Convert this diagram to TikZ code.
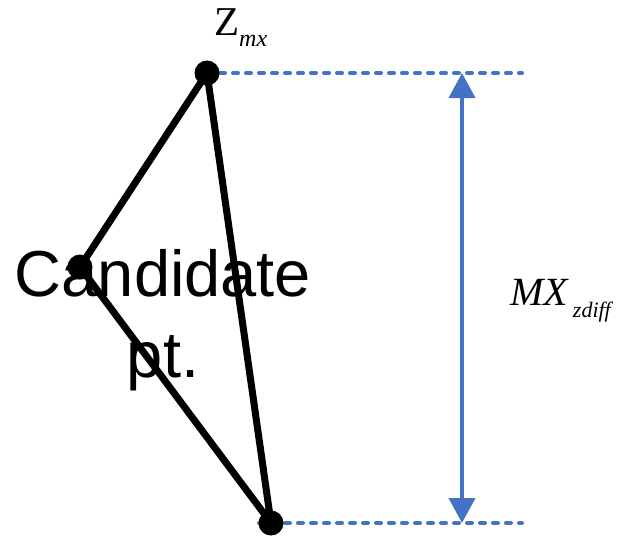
\documentclass[tikz,border=0pt]{standalone}
\usepackage{fontspec}
\setmainfont{Liberation Serif}
\setsansfont{Liberation Sans}
\usetikzlibrary{arrows.meta}
\definecolor{diffc}{HTML}{4472C4}

\begin{document}
\begin{tikzpicture}[x=1pt,y=-1pt,
    dot/.style={circle, fill=black, inner sep=0pt, minimum size=25pt},
    edge/.style={line width=7pt, line join=round},
    guide/.style={diffc, line width=4pt, line cap=round, dash pattern=on 5pt off 8pt},
    span/.style={diffc, line width=4pt, {Triangle[length=25pt,width=26pt]}-{Triangle[length=25pt,width=26pt]}}]
  \useasboundingbox (0,0) rectangle (621,539);
  \def\xend{522}\def\xarr{462}

  % points
  \coordinate (ztop) at (207,73);
  \coordinate (zbot) at (271,523);
  \coordinate (cpt) at (80,267);
  \coordinate (topend) at (\xend,73);
  \coordinate (botend) at (\xend,523);
  \coordinate (arrtop) at (\xarr,73);
  \coordinate (arrbot) at (\xarr,523);

  % dashed guides
  \draw[guide] (ztop) -- (topend);
  \draw[guide] ([xshift=-12pt]zbot) -- (botend);

  % triangle
  \draw[edge] (ztop) -- (cpt) -- (zbot) -- cycle;
  \node[dot] (zmx) at (ztop) {};
  \node[dot] (zmin) at (zbot) {};
  \node[dot] (cand) at (cpt) {};

  % difference arrow
  \draw[span] (arrtop) -- (arrbot);

  % labels
  \node[anchor=base west, inner sep=0pt, font=\fontsize{41}{41}\selectfont] (zlab) at (214,35)
    {Z\raisebox{-11pt}{\fontsize{24}{24}\selectfont\itshape mx}};
  \node[anchor=base west, inner sep=0pt, font=\fontsize{40}{40}\selectfont\itshape] (mxlab) at (510,305)
    {MX\hspace{5pt}\raisebox{-12pt}{\fontsize{22}{22}\selectfont zdiff}};
  \node[anchor=base, inner sep=0pt, align=center, font=\sffamily\fontsize{65}{81}\selectfont] (ctext) at (163,377)
    {Candidate\\pt.};
\end{tikzpicture}
\end{document}
